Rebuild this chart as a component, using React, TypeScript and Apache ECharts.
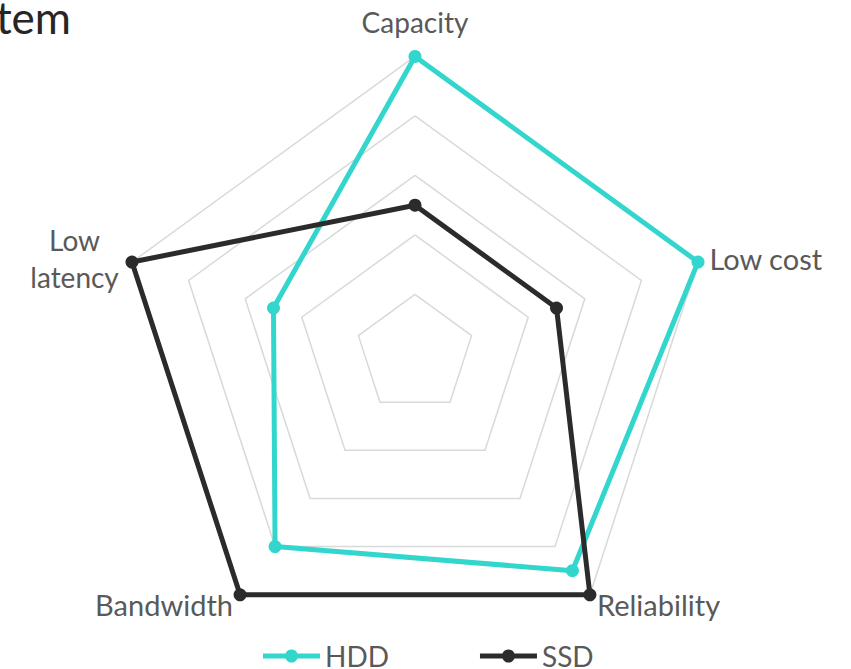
import React, { useEffect, useRef } from "react";
import * as echarts from "echarts";

const indicators = ["Capacity", "Low\nlatency", "Bandwidth", "Reliability", "Low cost"];
const maxValue = 5;
const hddValues = [5, 2.5, 4, 4.5, 5];
const ssdValues = [2.5, 5, 5, 5, 2.5];
const seriesNames = ["HDD", "SSD"];
const titleText = "Storage system";

const HDD_COLOR = "#33D6CD";
const SSD_COLOR = "#2B2B2B";
const TEXT_COLOR = "#595959";
const FONT = "Lato, 'Open Sans', sans-serif";

export default function App() {
  const ref = useRef<HTMLDivElement>(null);
  useEffect(() => {
    if (!ref.current) return;
    const chart = echarts.init(ref.current, undefined, { renderer: "svg" });
    const legendIcon =
      "path://M0,4.5 L57,4.5 L57,9.5 L0,9.5 Z M28.5,0.5 A6.5,6.5 0 1,1 28.49,0.5 Z";
    chart.setOption({
      animation: false,
      backgroundColor: "#ffffff",
      textStyle: { fontFamily: FONT },
      graphic: [
        {
          type: "text",
          x: 71,
          y: 17,
          style: {
            text: titleText,
            font: "44px Lato, 'Open Sans', sans-serif",
            fill: "#262626",
            textAlign: "right",
            textVerticalAlign: "middle",
          },
        },
      ],
      legend: {
        data: seriesNames,
        left: 263,
        top: 642,
        padding: 0,
        itemWidth: 57,
        itemHeight: 14,
        itemGap: 91,
        icon: legendIcon,
        textStyle: { fontSize: 28, color: TEXT_COLOR, fontFamily: FONT, lineHeight: 24 },
      },
      radar: {
        center: [415, 354],
        radius: 297.6,
        shape: "polygon",
        splitNumber: 5,
        nameGap: 12,
        indicator: indicators.map((n) => ({ name: n, max: maxValue, min: 0 })),
        axisName: {
          color: TEXT_COLOR,
          fontSize: 29,
          fontFamily: FONT,
          formatter: (name: string) => {
            if (name.indexOf("\n") >= 0) {
              return name
                .split("\n")
                .map((s) => "{c|" + s + "}")
                .join("\n");
            }
            if (name === "Capacity") return "{top|" + name + "}";
            return name;
          },
          rich: {
            c: {
              width: 92,
              align: "center",
              fontSize: 28,
              color: TEXT_COLOR,
              fontFamily: FONT,
              lineHeight: 37,
            },
            top: {
              fontSize: 28,
              color: TEXT_COLOR,
              fontFamily: FONT,
              padding: [0, 0, 8, 0],
            },
          },
        },
        axisLine: { show: false },
        axisTick: { show: false },
        axisLabel: { show: false },
        splitArea: { show: false },
        splitLine: { lineStyle: { color: "#D9D9D9", width: 1.5 } },
      },
      series: [
        {
          type: "radar",
          symbol: "circle",
          symbolSize: 13,
          data: [
            {
              name: seriesNames[0],
              value: hddValues,
              itemStyle: { color: HDD_COLOR },
              lineStyle: { color: HDD_COLOR, width: 5 },
            },
            {
              name: seriesNames[1],
              value: ssdValues,
              itemStyle: { color: SSD_COLOR },
              lineStyle: { color: SSD_COLOR, width: 5 },
            },
          ],
        },
      ],
    });
    return () => chart.dispose();
  }, []);
  return (
    <div
      ref={ref}
      style={{ position: "fixed", left: 0, top: 0, width: 851, height: 669 }}
    />
  );
}
